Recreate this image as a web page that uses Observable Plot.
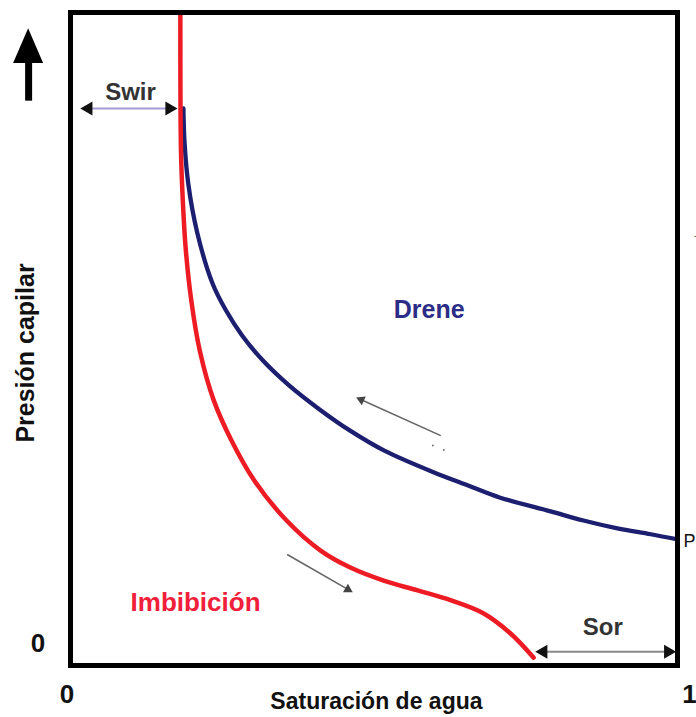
<!DOCTYPE html>
<html><head><meta charset="utf-8">
<script src="https://cdn.jsdelivr.net/npm/d3@7"></script>
<script src="https://cdn.jsdelivr.net/npm/@observablehq/plot@0.6"></script>
<style>body{margin:0;background:#fff;} svg{display:block}</style>
</head><body><div id="chart"></div>
<script>
// Imbibición curve (water saturation, capillary pressure; both normalised 0–1)
const imbSw = [0.181,0.182,0.185,0.190,0.199,0.213,0.236,0.265,0.303,0.356,0.412,0.461,0.516,0.572,0.626,0.680,0.725,0.763];
const imbPc = [1.000,0.789,0.712,0.636,0.559,0.482,0.406,0.345,0.283,0.222,0.176,0.150,0.130,0.115,0.100,0.080,0.049,0.012];
// Drene curve
const dreSw = [0.186,0.188,0.194,0.209,0.234,0.256,0.283,0.317,0.360,0.412,0.460,0.517,0.598,0.654,0.708,0.791,0.845,0.901,0.956,1.000];
const drePc = [0.853,0.799,0.738,0.662,0.585,0.544,0.505,0.467,0.429,0.391,0.360,0.329,0.296,0.276,0.257,0.236,0.222,0.210,0.201,0.193];
// Axis tick labels
const xTickVals = [0, 1];
const xTickLabels = ["0", "1"];
const yTickVals = [0];
const yTickLabels = ["0"];

const imb = imbSw.map((x, i) => ({x, y: imbPc[i]}));
const dre = dreSw.map((x, i) => ({x, y: drePc[i]}));

const font = "'Liberation Sans', Arial, sans-serif";

const chart = Plot.plot({
  width: 696,
  height: 717,
  marginLeft: 70,
  marginRight: 19,
  marginTop: 12,
  marginBottom: 52,
  x: {domain: [0, 1], axis: null},
  y: {domain: [0, 1], axis: null},
  style: {fontFamily: font, background: "#fff", overflow: "visible"},
  marks: [
    Plot.line(dre, {x: "x", y: "y", stroke: "#1c1f6f", strokeWidth: 4.3, curve: "catmull-rom"}),
    Plot.line(imb, {x: "x", y: "y", stroke: "#ed1c24", strokeWidth: 4.5, curve: "catmull-rom"}),
    Plot.frame({stroke: "black", strokeWidth: 5}),
    // Swir double arrow
    Plot.link([{x1: 0.03, x2: 0.163, y: 0.853}], {x1: "x1", x2: "x2", y1: "y", y2: "y", stroke: "#a49bd6", strokeWidth: 2}),
    // Sor double arrow
    Plot.link([{x1: 0.78, x2: 0.984, y: 0.021}], {x1: "x1", x2: "x2", y1: "y", y2: "y", stroke: "#8a8a8a", strokeWidth: 2}),
    // direction arrows
    Plot.link([{x1: 0.610, y1: 0.352, x2: 0.479, y2: 0.407}, {x1: 0.357, y1: 0.170, x2: 0.457, y2: 0.1165}],
      {x1: "x1", y1: "y1", x2: "x2", y2: "y2", stroke: "#666", strokeWidth: 1.6}),
    Plot.dot([{x: 0.0295, y: 0.853, r: 0}, {x: 0.163, y: 0.853, r: 180}, {x: 0.779, y: 0.021, r: 0}, {x: 0.9845, y: 0.021, r: 180}],
      {x: "x", y: "y", symbol: "triangle", r: 5.2, fill: "#111", stroke: null, rotate: d => d.r - 90}),
    Plot.dot([{x: 0.479, y: 0.407, r: -66}, {x: 0.457, y: 0.1165, r: 120}],
      {x: "x", y: "y", symbol: "triangle", r: 3.6, fill: "#444", stroke: null, rotate: "r"}),
    Plot.dot([{x: 0.597, y: 0.337}, {x: 0.615, y: 0.330}], {x: "x", y: "y", r: 1, fill: "#777"}),
    // up arrow (left of plot)
    Plot.link([{x: -0.069, y1: 0.865, y2: 0.93}], {x1: "x", x2: "x", y1: "y1", y2: "y2", stroke: "black", strokeWidth: 7}),
    Plot.areaY([{x: -0.0937, y: 0.922, b: 0.922}, {x: -0.069, y: 0.975, b: 0.922}, {x: -0.0443, y: 0.922, b: 0.922}],
      {x: "x", y1: "b", y2: "y", fill: "black"}),
    // labels
    Plot.text([{x: 0.591, y: 0.544, t: "Drene"}], {x: "x", y: "y", text: "t", fill: "#2b2d86", fontSize: 25, fontWeight: "bold"}),
    Plot.text([{x: 0.206, y: 0.0957, t: "Imbibición"}], {x: "x", y: "y", text: "t", fill: "#f0203a", fontSize: 26, fontWeight: "bold"}),
    Plot.text([{x: 0.0988, y: 0.878, t: "Swir"}], {x: "x", y: "y", text: "t", fill: "#333", fontSize: 24, fontWeight: "bold"}),
    Plot.text([{x: 0.877, y: 0.059, t: "Sor"}], {x: "x", y: "y", text: "t", fill: "#333", fontSize: 24, fontWeight: "bold"}),
    Plot.text([{x: 0.504, y: -0.055, t: "Saturación de agua"}], {x: "x", y: "y", text: "t", fill: "#111", fontSize: 23, fontWeight: "bold"}),
    Plot.text([{x: -0.0733, y: 0.4786, t: "Presión capilar"}], {x: "x", y: "y", text: "t", fill: "#111", fontSize: 25, fontWeight: "bold", rotate: -90}),
    Plot.text(xTickVals, {x: d => d === 0 ? -0.0058 : 1.0198, y: () => -0.044, text: (d, i) => xTickLabels[i], fill: "#111", fontSize: 26, fontWeight: "bold"}),
    Plot.text(yTickVals, {x: () => -0.0535, y: d => d + 0.034, text: (d, i) => yTickLabels[i], fill: "#111", fontSize: 26, fontWeight: "bold"}),
    Plot.text([{x: 1.01, y: 0.19, t: "P"}], {x: "x", y: "y", text: "t", fill: "#111", fontSize: 18, textAnchor: "start"}),
    Plot.text([{x: 1.03, y: 0.658, t: "-"}], {x: "x", y: "y", text: "t", fill: "#555", fontSize: 10})
  ]
});
document.getElementById("chart").appendChild(chart);
</script>
</body></html>
